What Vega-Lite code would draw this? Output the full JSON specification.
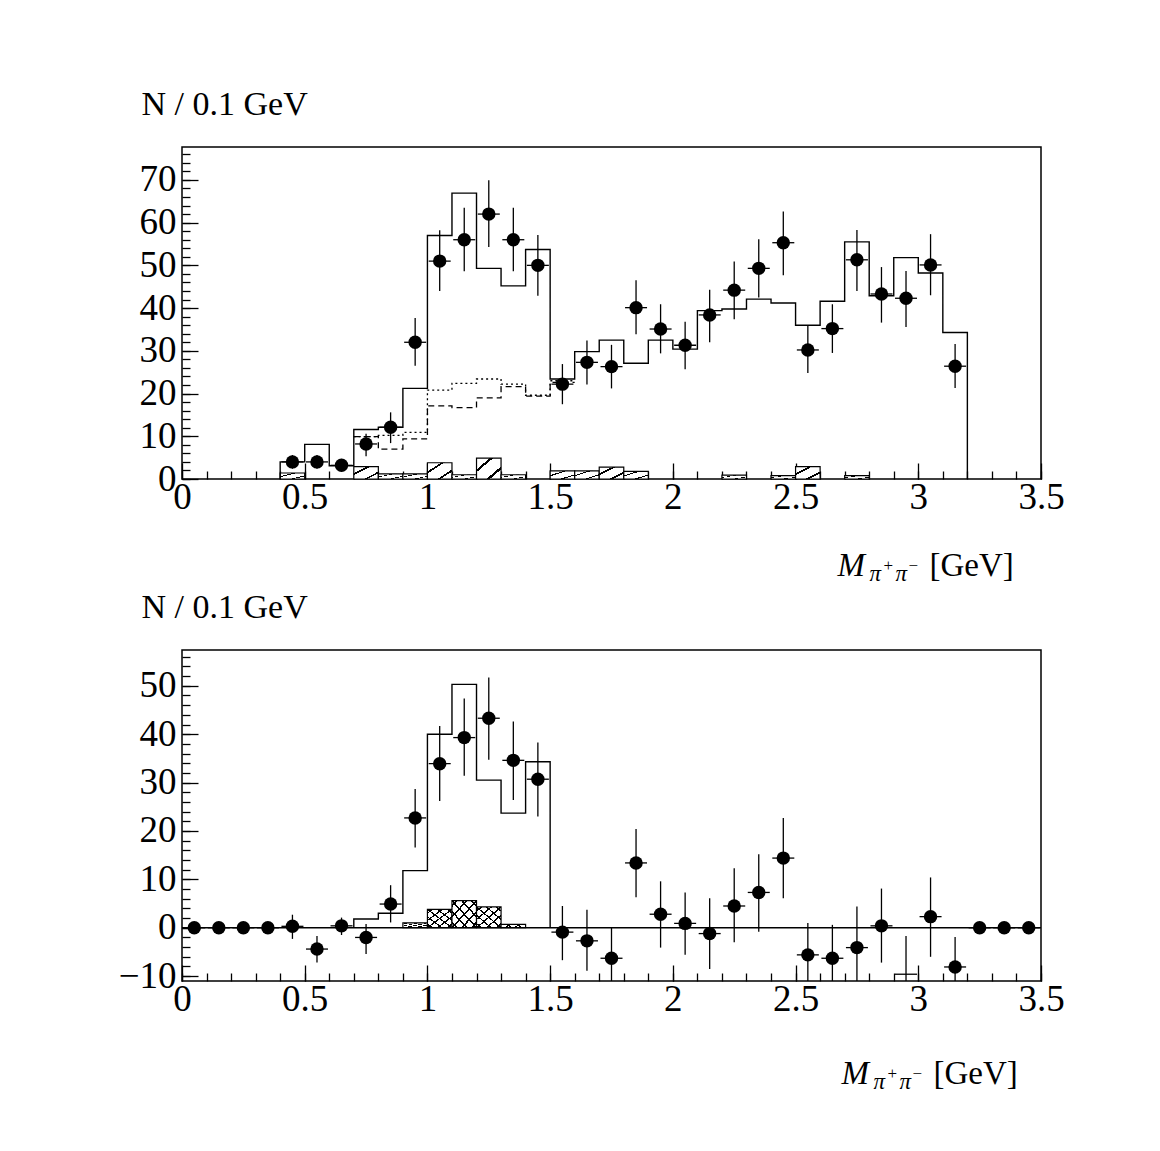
{
  "$schema": "https://vega.github.io/schema/vega-lite/v6.json",
  "background": "white",
  "padding": {"left": 117, "top": 86, "right": 5, "bottom": 5},
  "config": {"view": {"stroke": "black", "strokeWidth": 1.5}, "font": "Liberation Serif"},
  "spacing": 171,
  "bounds": "flush",
  "datasets": {
    "top_pts": [
      {"x": 0.45, "n": 4.0, "lo": 2.4, "hi": 5.6},
      {"x": 0.55, "n": 4.0, "lo": 2.4, "hi": 5.6},
      {"x": 0.65, "n": 3.2, "lo": 1.7, "hi": 4.7},
      {"x": 0.75, "n": 8.2, "lo": 5.3, "hi": 10.6},
      {"x": 0.85, "n": 12.1, "lo": 8.4, "hi": 15.6},
      {"x": 0.95, "n": 32.0, "lo": 26.5, "hi": 37.7},
      {"x": 1.05, "n": 51.0, "lo": 44.0, "hi": 58.2},
      {"x": 1.15, "n": 56.0, "lo": 48.6, "hi": 63.5},
      {"x": 1.25, "n": 62.0, "lo": 54.3, "hi": 69.9},
      {"x": 1.35, "n": 56.0, "lo": 48.6, "hi": 63.5},
      {"x": 1.45, "n": 50.0, "lo": 42.9, "hi": 57.1},
      {"x": 1.55, "n": 22.2, "lo": 17.5, "hi": 26.9},
      {"x": 1.65, "n": 27.3, "lo": 22.1, "hi": 32.4},
      {"x": 1.75, "n": 26.3, "lo": 21.2, "hi": 31.4},
      {"x": 1.85, "n": 40.1, "lo": 33.9, "hi": 46.5},
      {"x": 1.95, "n": 35.1, "lo": 29.4, "hi": 40.9},
      {"x": 2.05, "n": 31.3, "lo": 25.7, "hi": 36.8},
      {"x": 2.15, "n": 38.4, "lo": 32.0, "hi": 44.3},
      {"x": 2.25, "n": 44.2, "lo": 37.4, "hi": 50.9},
      {"x": 2.35, "n": 49.3, "lo": 42.5, "hi": 56.1},
      {"x": 2.45, "n": 55.3, "lo": 47.7, "hi": 62.6},
      {"x": 2.55, "n": 30.2, "lo": 24.8, "hi": 35.9},
      {"x": 2.65, "n": 35.2, "lo": 29.5, "hi": 40.9},
      {"x": 2.75, "n": 51.3, "lo": 44.0, "hi": 58.3},
      {"x": 2.85, "n": 43.3, "lo": 36.6, "hi": 49.6},
      {"x": 2.95, "n": 42.3, "lo": 35.6, "hi": 48.7},
      {"x": 3.05, "n": 50.1, "lo": 43.0, "hi": 57.3},
      {"x": 3.15, "n": 26.4, "lo": 21.3, "hi": 31.6}
    ],
    "top_tot": [
      {"e": 0.4, "v": 0}, {"e": 0.4, "v": 4.0}, {"e": 0.5, "v": 8.1}, {"e": 0.6, "v": 3.1},
      {"e": 0.7, "v": 11.6}, {"e": 0.8, "v": 12.1}, {"e": 0.9, "v": 21.2}, {"e": 1.0, "v": 57.0},
      {"e": 1.1, "v": 66.9}, {"e": 1.2, "v": 49.3}, {"e": 1.3, "v": 45.2}, {"e": 1.4, "v": 53.7},
      {"e": 1.5, "v": 23.4}, {"e": 1.6, "v": 29.8}, {"e": 1.7, "v": 32.5}, {"e": 1.8, "v": 27.1},
      {"e": 1.9, "v": 32.5}, {"e": 2.0, "v": 30.4}, {"e": 2.1, "v": 39.4}, {"e": 2.2, "v": 39.8},
      {"e": 2.3, "v": 42.1}, {"e": 2.4, "v": 41.2}, {"e": 2.5, "v": 36.0}, {"e": 2.6, "v": 41.6},
      {"e": 2.7, "v": 55.5}, {"e": 2.8, "v": 42.9}, {"e": 2.9, "v": 51.8}, {"e": 3.0, "v": 48.2},
      {"e": 3.1, "v": 34.3}, {"e": 3.2, "v": 0}
    ],
    "top_dot": [
      {"e": 0.7, "v": 9.9}, {"e": 0.8, "v": 10.2}, {"e": 0.9, "v": 10.9}, {"e": 1.0, "v": 20.8},
      {"e": 1.1, "v": 22.4}, {"e": 1.2, "v": 23.4}, {"e": 1.3, "v": 22.2}, {"e": 1.4, "v": 19.6},
      {"e": 1.5, "v": 23.0}, {"e": 1.6, "v": 23.0}
    ],
    "top_dash": [
      {"e": 0.7, "v": 9.9}, {"e": 0.8, "v": 7.0}, {"e": 0.9, "v": 9.4}, {"e": 1.0, "v": 17.1},
      {"e": 1.1, "v": 16.7}, {"e": 1.2, "v": 19.0}, {"e": 1.3, "v": 21.6}, {"e": 1.4, "v": 19.4},
      {"e": 1.5, "v": 22.6}, {"e": 1.6, "v": 22.6}
    ],
    "top_hatch": [
      {"x0": 0.4, "x1": 0.5, "v": 1.4}, {"x0": 0.7, "x1": 0.8, "v": 2.9}, {"x0": 0.8, "x1": 0.9, "v": 1.2},
      {"x0": 0.9, "x1": 1.0, "v": 1.2}, {"x0": 1.0, "x1": 1.1, "v": 3.8}, {"x0": 1.1, "x1": 1.2, "v": 1.0},
      {"x0": 1.2, "x1": 1.3, "v": 4.9}, {"x0": 1.3, "x1": 1.4, "v": 1.0}, {"x0": 1.5, "x1": 1.6, "v": 1.9},
      {"x0": 1.6, "x1": 1.7, "v": 1.9}, {"x0": 1.7, "x1": 1.8, "v": 2.8}, {"x0": 1.8, "x1": 1.9, "v": 1.8},
      {"x0": 2.2, "x1": 2.3, "v": 0.9}, {"x0": 2.4, "x1": 2.5, "v": 0.8}, {"x0": 2.5, "x1": 2.6, "v": 2.9},
      {"x0": 2.7, "x1": 2.8, "v": 0.8}
    ],
    "bot_pts": [
      {"x": 0.05, "n": 0, "lo": 0, "hi": 0},
      {"x": 0.15, "n": 0, "lo": 0, "hi": 0},
      {"x": 0.25, "n": 0, "lo": 0, "hi": 0},
      {"x": 0.35, "n": 0, "lo": 0, "hi": 0},
      {"x": 0.45, "n": 0.3, "lo": -2.3, "hi": 2.7},
      {"x": 0.55, "n": -4.4, "lo": -7.2, "hi": -1.7},
      {"x": 0.65, "n": 0.4, "lo": -1.5, "hi": 2.1},
      {"x": 0.75, "n": -2.0, "lo": -5.4, "hi": 0.8},
      {"x": 0.85, "n": 4.9, "lo": 1.1, "hi": 8.8},
      {"x": 0.95, "n": 22.7, "lo": 16.6, "hi": 28.7},
      {"x": 1.05, "n": 33.9, "lo": 26.2, "hi": 41.7},
      {"x": 1.15, "n": 39.3, "lo": 31.4, "hi": 47.4},
      {"x": 1.25, "n": 43.3, "lo": 34.7, "hi": 51.7},
      {"x": 1.35, "n": 34.6, "lo": 26.4, "hi": 42.6},
      {"x": 1.45, "n": 30.7, "lo": 23.0, "hi": 38.3},
      {"x": 1.55, "n": -0.9, "lo": -6.7, "hi": 4.5},
      {"x": 1.65, "n": -2.7, "lo": -8.9, "hi": 3.7},
      {"x": 1.75, "n": -6.3, "lo": -12.7, "hi": 0.1},
      {"x": 1.85, "n": 13.4, "lo": 6.3, "hi": 20.4},
      {"x": 1.95, "n": 2.8, "lo": -4.1, "hi": 9.6},
      {"x": 2.05, "n": 0.9, "lo": -5.6, "hi": 7.3},
      {"x": 2.15, "n": -1.2, "lo": -8.5, "hi": 6.1},
      {"x": 2.25, "n": 4.5, "lo": -3.0, "hi": 12.3},
      {"x": 2.35, "n": 7.3, "lo": -0.8, "hi": 15.2},
      {"x": 2.45, "n": 14.4, "lo": 6.1, "hi": 22.7},
      {"x": 2.55, "n": -5.6, "lo": -12.2, "hi": 1.0},
      {"x": 2.65, "n": -6.3, "lo": -13.2, "hi": 0.6},
      {"x": 2.75, "n": -4.1, "lo": -12.6, "hi": 4.4},
      {"x": 2.85, "n": 0.4, "lo": -7.2, "hi": 8.1},
      {"x": 2.95, "n": -9.6, "lo": -17.5, "hi": -1.7},
      {"x": 3.05, "n": 2.3, "lo": -6.0, "hi": 10.4},
      {"x": 3.15, "n": -8.1, "lo": -14.3, "hi": -1.9},
      {"x": 3.25, "n": 0, "lo": 0, "hi": 0},
      {"x": 3.35, "n": 0, "lo": 0, "hi": 0},
      {"x": 3.45, "n": 0, "lo": 0, "hi": 0}
    ],
    "bot_tot": [
      {"e": 0.7, "v": 0}, {"e": 0.7, "v": 1.8}, {"e": 0.8, "v": 3.0}, {"e": 0.9, "v": 11.8},
      {"e": 1.0, "v": 40.0}, {"e": 1.1, "v": 50.3}, {"e": 1.2, "v": 30.5}, {"e": 1.3, "v": 23.7},
      {"e": 1.4, "v": 34.3}, {"e": 1.5, "v": 0}
    ],
    "bot_hatch": [
      {"x0": 0.9, "x1": 1.0, "v": 1.0}, {"x0": 1.0, "x1": 1.1, "v": 3.8}, {"x0": 1.1, "x1": 1.2, "v": 5.6},
      {"x0": 1.2, "x1": 1.3, "v": 4.3}, {"x0": 1.3, "x1": 1.4, "v": 0.7}
    ]
  },
  "vconcat": [
    {
      "width": 859,
      "height": 332,
      "resolve": {"axis": {"x": "independent", "y": "independent"}},
      "layer": [
        {
          "data": {"name": "top_hatch"},
          "mark": {"type": "rect", "stroke": "black", "strokeWidth": 1.2,
            "fill": {"gradient": "linear", "x1": 0, "y1": 0, "x2": 1, "y2": 1, "stops": [
              {"offset": 0, "color": "white"}, {"offset": 0.27, "color": "white"}, {"offset": 0.27, "color": "black"},
              {"offset": 0.34, "color": "black"}, {"offset": 0.34, "color": "white"}, {"offset": 0.7, "color": "white"},
              {"offset": 0.7, "color": "black"}, {"offset": 0.77, "color": "black"}, {"offset": 0.77, "color": "white"},
              {"offset": 1, "color": "white"}]}},
          "encoding": {
            "x": {"field": "x0", "type": "quantitative", "scale": {"domain": [0, 3.5], "nice": false, "zero": false},
              "axis": {"orient": "bottom", "values": [0, 0.5, 1, 1.5, 2, 2.5, 3, 3.5], "format": "~r", "tickSize": -16, "tickWidth": 1.3, "tickColor": "black",
                "domain": false, "grid": false, "labelFont": "Liberation Serif", "labelFontSize": 37, "labelColor": "black",
                "labelPadding": 16, "labelFlush": false, "labelOverlap": false, "title": null}},
            "x2": {"field": "x1"},
            "y": {"field": "v", "type": "quantitative", "scale": {"domain": [0, 77.7], "nice": false, "zero": false},
              "axis": {"orient": "left", "values": [0, 10, 20, 30, 40, 50, 60, 70], "format": "~r", "tickSize": -16, "tickWidth": 1.3, "tickColor": "black",
                "domain": false, "grid": false, "labelFont": "Liberation Serif", "labelFontSize": 37, "labelColor": "black",
                "labelPadding": 22, "labelFlush": false, "labelOverlap": false,
                "title": "N / 0.1 GeV", "titleAngle": 0, "titleAlign": "left", "titleBaseline": "alphabetic",
                "titleX": -41, "titleY": -33, "titleFont": "Liberation Serif", "titleFontSize": 34, "titleFontWeight": "normal", "titleColor": "black"}},
            "y2": {"datum": 0}
          }
        },
        {
          "data": {"name": "top_tot"},
          "mark": {"type": "line", "interpolate": "step-after", "color": "black", "strokeWidth": 1.4, "clip": true},
          "encoding": {
            "x": {"field": "e", "type": "quantitative", "scale": {"domain": [0, 3.5], "nice": false, "zero": false},
              "axis": {"orient": "bottom", "values": [0, 0.1, 0.2, 0.3, 0.4, 0.5, 0.6, 0.7, 0.8, 0.9, 1, 1.1, 1.2, 1.3, 1.4, 1.5, 1.6, 1.7, 1.8, 1.9, 2, 2.1, 2.2, 2.3, 2.4, 2.5, 2.6, 2.7, 2.8, 2.9, 3, 3.1, 3.2, 3.3, 3.4, 3.5],
                "tickSize": -8, "tickWidth": 1.3, "tickColor": "black", "labels": false, "domain": false, "grid": false, "title": null}},
            "y": {"field": "v", "type": "quantitative", "scale": {"domain": [0, 77.7], "nice": false, "zero": false},
              "axis": {"orient": "left", "values": [0, 2, 4, 6, 8, 10, 12, 14, 16, 18, 20, 22, 24, 26, 28, 30, 32, 34, 36, 38, 40, 42, 44, 46, 48, 50, 52, 54, 56, 58, 60, 62, 64, 66, 68, 70, 72, 74, 76],
                "tickSize": -8, "tickWidth": 1.3, "tickColor": "black", "labels": false, "domain": false, "grid": false, "title": null}},
            "order": {"value": null}
          }
        },
        {
          "data": {"name": "top_dot"},
          "mark": {"type": "line", "interpolate": "step-after", "color": "black", "strokeWidth": 1.3, "strokeDash": [2, 3], "clip": true},
          "encoding": {
            "x": {"field": "e", "type": "quantitative", "scale": {"domain": [0, 3.5], "nice": false, "zero": false},
              "axis": {"orient": "top", "ticks": false, "labels": false, "domain": false, "grid": false,
                "title": "M", "titleFont": "Liberation Serif", "titleFontStyle": "italic", "titleFontWeight": "normal", "titleFontSize": 33,
                "titleColor": "black", "titleAlign": "left", "titleBaseline": "alphabetic", "titleX": 655, "titleY": 428}},
            "y": {"field": "v", "type": "quantitative", "scale": {"domain": [0, 77.7], "nice": false, "zero": false}, "axis": null},
            "order": {"value": null}
          }
        },
        {
          "data": {"name": "top_dash"},
          "mark": {"type": "line", "interpolate": "step-after", "color": "black", "strokeWidth": 1.3, "strokeDash": [6, 4], "clip": true},
          "encoding": {
            "x": {"field": "e", "type": "quantitative", "scale": {"domain": [0, 3.5], "nice": false, "zero": false},
              "axis": {"orient": "top", "ticks": false, "labels": false, "domain": false, "grid": false,
                "title": "π", "titleFont": "Liberation Serif", "titleFontStyle": "italic", "titleFontWeight": "normal", "titleFontSize": 23,
                "titleColor": "black", "titleAlign": "left", "titleBaseline": "alphabetic", "titleX": 687, "titleY": 433}},
            "y": {"field": "v", "type": "quantitative", "scale": {"domain": [0, 77.7], "nice": false, "zero": false}, "axis": null},
            "order": {"value": null}
          }
        },
        {
          "data": {"name": "top_pts"},
          "mark": {"type": "rule", "color": "black", "strokeWidth": 1.3, "clip": true},
          "encoding": {
            "x": {"field": "x", "type": "quantitative", "scale": {"domain": [0, 3.5], "nice": false, "zero": false},
              "axis": {"orient": "top", "ticks": false, "labels": false, "domain": false, "grid": false,
                "title": "π", "titleFont": "Liberation Serif", "titleFontStyle": "italic", "titleFontWeight": "normal", "titleFontSize": 23,
                "titleColor": "black", "titleAlign": "left", "titleBaseline": "alphabetic", "titleX": 713, "titleY": 433}},
            "y": {"field": "lo", "type": "quantitative", "scale": {"domain": [0, 77.7], "nice": false, "zero": false},
              "axis": {"orient": "left", "ticks": false, "labels": false, "domain": false, "grid": false,
                "title": "+", "titleAngle": 0, "titleFont": "Liberation Serif", "titleFontWeight": "normal", "titleFontSize": 17,
                "titleColor": "black", "titleAlign": "left", "titleBaseline": "alphabetic", "titleX": 701, "titleY": 423}},
            "y2": {"field": "hi"}
          }
        },
        {
          "data": {"name": "top_pts"},
          "mark": {"type": "tick", "orient": "horizontal", "size": 22, "thickness": 1.3, "color": "black", "opacity": 1},
          "encoding": {
            "x": {"field": "x", "type": "quantitative", "scale": {"domain": [0, 3.5], "nice": false, "zero": false},
              "axis": {"orient": "top", "ticks": false, "labels": false, "domain": false, "grid": false,
                "title": "[GeV]", "titleFont": "Liberation Serif", "titleFontWeight": "normal", "titleFontSize": 33,
                "titleColor": "black", "titleAlign": "left", "titleBaseline": "alphabetic", "titleX": 747, "titleY": 428}},
            "y": {"field": "n", "type": "quantitative", "scale": {"domain": [0, 77.7], "nice": false, "zero": false},
              "axis": {"orient": "left", "ticks": false, "labels": false, "domain": false, "grid": false,
                "title": "−", "titleAngle": 0, "titleFont": "Liberation Serif", "titleFontWeight": "normal", "titleFontSize": 17,
                "titleColor": "black", "titleAlign": "left", "titleBaseline": "alphabetic", "titleX": 726, "titleY": 423}}
          }
        },
        {
          "data": {"name": "top_pts"},
          "mark": {"type": "circle", "size": 180, "color": "black", "opacity": 1},
          "encoding": {
            "x": {"field": "x", "type": "quantitative", "scale": {"domain": [0, 3.5], "nice": false, "zero": false}, "axis": null},
            "y": {"field": "n", "type": "quantitative", "scale": {"domain": [0, 77.7], "nice": false, "zero": false}, "axis": null}
          }
        }
      ]
    },
    {
      "width": 859,
      "height": 331,
      "resolve": {"axis": {"x": "independent", "y": "independent"}},
      "layer": [
        {
          "data": {"name": "bot_hatch"},
          "mark": {"type": "rect", "stroke": "black", "strokeWidth": 1.2,
            "fill": {"gradient": "linear", "x1": 0, "y1": 0, "x2": 1, "y2": 1, "stops": [
              {"offset": 0, "color": "white"}, {"offset": 0.08, "color": "white"}, {"offset": 0.08, "color": "black"},
              {"offset": 0.12, "color": "black"}, {"offset": 0.12, "color": "white"}, {"offset": 0.28, "color": "white"},
              {"offset": 0.28, "color": "black"}, {"offset": 0.32, "color": "black"}, {"offset": 0.32, "color": "white"},
              {"offset": 0.48, "color": "white"}, {"offset": 0.48, "color": "black"}, {"offset": 0.52, "color": "black"},
              {"offset": 0.52, "color": "white"}, {"offset": 0.68, "color": "white"}, {"offset": 0.68, "color": "black"},
              {"offset": 0.72, "color": "black"}, {"offset": 0.72, "color": "white"}, {"offset": 0.88, "color": "white"},
              {"offset": 0.88, "color": "black"}, {"offset": 0.92, "color": "black"}, {"offset": 0.92, "color": "white"},
              {"offset": 1, "color": "white"}]}},
          "encoding": {
            "x": {"field": "x0", "type": "quantitative", "scale": {"domain": [0, 3.5], "nice": false, "zero": false},
              "axis": {"orient": "bottom", "values": [0, 0.5, 1, 1.5, 2, 2.5, 3, 3.5], "format": "~r", "tickSize": -16, "tickWidth": 1.3, "tickColor": "black",
                "domain": false, "grid": false, "labelFont": "Liberation Serif", "labelFontSize": 37, "labelColor": "black",
                "labelPadding": 16, "labelFlush": false, "labelOverlap": false, "title": null}},
            "x2": {"field": "x1"},
            "y": {"field": "v", "type": "quantitative", "scale": {"domain": [-11, 57.4], "nice": false, "zero": false},
              "axis": {"orient": "left", "values": [-10, 0, 10, 20, 30, 40, 50], "format": "~r", "tickSize": -16, "tickWidth": 1.3, "tickColor": "black",
                "domain": false, "grid": false, "labelFont": "Liberation Serif", "labelFontSize": 37, "labelColor": "black",
                "labelPadding": 22, "labelFlush": false, "labelOverlap": false,
                "title": "N / 0.1 GeV", "titleAngle": 0, "titleAlign": "left", "titleBaseline": "alphabetic",
                "titleX": -41, "titleY": -33, "titleFont": "Liberation Serif", "titleFontSize": 34, "titleFontWeight": "normal", "titleColor": "black"}},
            "y2": {"datum": 0}
          }
        },
        {
          "data": {"name": "bot_hatch"},
          "mark": {"type": "rect", "strokeWidth": 0,
            "fill": {"gradient": "linear", "x1": 0, "y1": 1, "x2": 1, "y2": 0, "stops": [
              {"offset": 0, "color": "rgba(255,255,255,0)"}, {"offset": 0.08, "color": "rgba(255,255,255,0)"}, {"offset": 0.08, "color": "black"},
              {"offset": 0.12, "color": "black"}, {"offset": 0.12, "color": "rgba(255,255,255,0)"}, {"offset": 0.28, "color": "rgba(255,255,255,0)"},
              {"offset": 0.28, "color": "black"}, {"offset": 0.32, "color": "black"}, {"offset": 0.32, "color": "rgba(255,255,255,0)"},
              {"offset": 0.48, "color": "rgba(255,255,255,0)"}, {"offset": 0.48, "color": "black"}, {"offset": 0.52, "color": "black"},
              {"offset": 0.52, "color": "rgba(255,255,255,0)"}, {"offset": 0.68, "color": "rgba(255,255,255,0)"}, {"offset": 0.68, "color": "black"},
              {"offset": 0.72, "color": "black"}, {"offset": 0.72, "color": "rgba(255,255,255,0)"}, {"offset": 0.88, "color": "rgba(255,255,255,0)"},
              {"offset": 0.88, "color": "black"}, {"offset": 0.92, "color": "black"}, {"offset": 0.92, "color": "rgba(255,255,255,0)"},
              {"offset": 1, "color": "rgba(255,255,255,0)"}]}},
          "encoding": {
            "x": {"field": "x0", "type": "quantitative", "scale": {"domain": [0, 3.5], "nice": false, "zero": false},
              "axis": {"orient": "bottom", "values": [0, 0.1, 0.2, 0.3, 0.4, 0.5, 0.6, 0.7, 0.8, 0.9, 1, 1.1, 1.2, 1.3, 1.4, 1.5, 1.6, 1.7, 1.8, 1.9, 2, 2.1, 2.2, 2.3, 2.4, 2.5, 2.6, 2.7, 2.8, 2.9, 3, 3.1, 3.2, 3.3, 3.4, 3.5],
                "tickSize": -8, "tickWidth": 1.3, "tickColor": "black", "labels": false, "domain": false, "grid": false, "title": null}},
            "x2": {"field": "x1"},
            "y": {"field": "v", "type": "quantitative", "scale": {"domain": [-11, 57.4], "nice": false, "zero": false},
              "axis": {"orient": "left", "values": [-10, -8, -6, -4, -2, 0, 2, 4, 6, 8, 10, 12, 14, 16, 18, 20, 22, 24, 26, 28, 30, 32, 34, 36, 38, 40, 42, 44, 46, 48, 50, 52, 54, 56],
                "tickSize": -8, "tickWidth": 1.3, "tickColor": "black", "labels": false, "domain": false, "grid": false, "title": null}},
            "y2": {"datum": 0}
          }
        },
        {
          "data": {"values": [{}]},
          "mark": {"type": "rule", "color": "black", "strokeWidth": 1.4},
          "encoding": {
            "y": {"datum": 0, "type": "quantitative", "scale": {"domain": [-11, 57.4], "nice": false, "zero": false},
              "axis": {"orient": "left", "ticks": false, "labels": false, "domain": false, "grid": false,
                "title": "+", "titleAngle": 0, "titleFont": "Liberation Serif", "titleFontWeight": "normal", "titleFontSize": 17,
                "titleColor": "black", "titleAlign": "left", "titleBaseline": "alphabetic", "titleX": 705, "titleY": 428}}
          }
        },
        {
          "data": {"name": "bot_tot"},
          "mark": {"type": "line", "interpolate": "step-after", "color": "black", "strokeWidth": 1.4, "clip": true},
          "encoding": {
            "x": {"field": "e", "type": "quantitative", "scale": {"domain": [0, 3.5], "nice": false, "zero": false},
              "axis": {"orient": "top", "ticks": false, "labels": false, "domain": false, "grid": false,
                "title": "M", "titleFont": "Liberation Serif", "titleFontStyle": "italic", "titleFontWeight": "normal", "titleFontSize": 33,
                "titleColor": "black", "titleAlign": "left", "titleBaseline": "alphabetic", "titleX": 659, "titleY": 433}},
            "y": {"field": "v", "type": "quantitative", "scale": {"domain": [-11, 57.4], "nice": false, "zero": false}, "axis": null},
            "order": {"value": null}
          }
        },
        {
          "data": {"name": "bot_pts"},
          "mark": {"type": "rule", "color": "black", "strokeWidth": 1.3, "clip": true},
          "encoding": {
            "x": {"field": "x", "type": "quantitative", "scale": {"domain": [0, 3.5], "nice": false, "zero": false},
              "axis": {"orient": "top", "ticks": false, "labels": false, "domain": false, "grid": false,
                "title": "π", "titleFont": "Liberation Serif", "titleFontStyle": "italic", "titleFontWeight": "normal", "titleFontSize": 23,
                "titleColor": "black", "titleAlign": "left", "titleBaseline": "alphabetic", "titleX": 691, "titleY": 438}},
            "y": {"field": "lo", "type": "quantitative", "scale": {"domain": [-11, 57.4], "nice": false, "zero": false},
              "axis": {"orient": "left", "ticks": false, "labels": false, "domain": false, "grid": false,
                "title": "−", "titleAngle": 0, "titleFont": "Liberation Serif", "titleFontWeight": "normal", "titleFontSize": 17,
                "titleColor": "black", "titleAlign": "left", "titleBaseline": "alphabetic", "titleX": 730, "titleY": 428}},
            "y2": {"field": "hi"}
          }
        },
        {
          "data": {"name": "bot_pts"},
          "mark": {"type": "tick", "orient": "horizontal", "size": 22, "thickness": 1.3, "color": "black", "opacity": 1, "clip": true},
          "encoding": {
            "x": {"field": "x", "type": "quantitative", "scale": {"domain": [0, 3.5], "nice": false, "zero": false},
              "axis": {"orient": "top", "ticks": false, "labels": false, "domain": false, "grid": false,
                "title": "π", "titleFont": "Liberation Serif", "titleFontStyle": "italic", "titleFontWeight": "normal", "titleFontSize": 23,
                "titleColor": "black", "titleAlign": "left", "titleBaseline": "alphabetic", "titleX": 717, "titleY": 438}},
            "y": {"field": "n", "type": "quantitative", "scale": {"domain": [-11, 57.4], "nice": false, "zero": false}, "axis": null}
          }
        },
        {
          "data": {"name": "bot_pts"},
          "transform": [{"filter": "datum.x != 2.95"}],
          "mark": {"type": "circle", "size": 180, "color": "black", "opacity": 1},
          "encoding": {
            "x": {"field": "x", "type": "quantitative", "scale": {"domain": [0, 3.5], "nice": false, "zero": false},
              "axis": {"orient": "top", "ticks": false, "labels": false, "domain": false, "grid": false,
                "title": "[GeV]", "titleFont": "Liberation Serif", "titleFontWeight": "normal", "titleFontSize": 33,
                "titleColor": "black", "titleAlign": "left", "titleBaseline": "alphabetic", "titleX": 751, "titleY": 433}},
            "y": {"field": "n", "type": "quantitative", "scale": {"domain": [-11, 57.4], "nice": false, "zero": false}, "axis": null}
          }
        }
      ]
    }
  ]
}
